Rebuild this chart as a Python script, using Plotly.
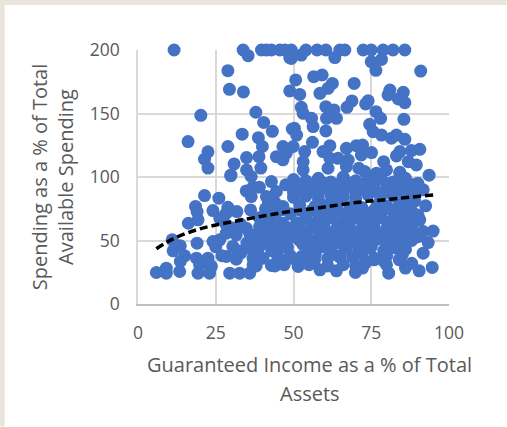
import plotly.graph_objects as go

# Points, sparse ones first, then the dense blob
x_points = [
    11.6, 33.8, 35.4, 28.9, 29.4, 33.9, 20.2, 37.9, 40.4, 43.2, 16.1, 33.5, 38.7, 28.9, 40.0, 22.5,
    21.4, 22.5, 34.9, 30.9, 29.9, 38.9, 34.9, 39.5, 39.7, 41.3, 42.9, 45.6, 47.2, 48.8, 48.8, 49.6,
    44.5, 46.6, 46.6, 47.7,
    49.3, 49.3, 52.5, 54.0, 57.6, 60.4, 63.3, 64.9, 66.5, 72.4, 75.0, 75.0, 78.8, 78.3, 82.0, 85.8,
    76.5, 90.9, 50.7, 56.5, 59.2, 69.5, 62.5, 61.1, 58.5, 52.0, 81.0, 85.3, 80.4, 83.7, 85.8, 74.0,
    73.2, 68.8, 67.2, 52.5, 53.1, 60.4, 63.0, 55.8, 63.8, 60.6, 56.3, 60.4, 50.3, 51.0, 76.5, 78.0,
    85.5, 74.5, 75.6, 78.3, 81.5, 83.1, 85.8, 56.1, 61.7, 67.0, 70.2, 72.2, 49.9, 53.6, 59.5, 75.1,
    71.8, 84.2, 83.1, 87.9, 90.6, 79.0, 86.9, 89.5, 84.2, 93.6, 53.1, 61.7, 64.3, 67.6, 53.1, 61.1,
    67.0, 71.0, 72.9, 79.9, 76.7,
    29.8, 36.4, 42.9, 47.5, 21.4, 26.0, 34.8, 36.4, 41.3, 44.5, 18.5, 19.0, 24.1, 28.9, 31.8, 36.2,
    42.1, 46.6, 16.2, 19.3, 26.3, 28.4, 11.0, 19.0, 11.3, 13.6, 15.0, 13.6, 13.4, 5.9, 9.1, 9.1,
    18.8, 22.5, 19.8, 23.0, 23.6, 19.3, 23.0, 29.5, 32.7, 35.9, 37.0, 42.9, 47.2, 28.4, 31.6, 24.1,
    26.3, 28.4, 31.6, 30.5, 34.8, 37.0, 34.8, 38.0, 41.3, 44.5, 37.0, 40.2, 39.1, 42.3, 46.6, 47.7,
    28.4,
    51.5, 58.5, 63.8, 69.9, 72.2, 80.6, 86.0, 90.4, 94.6, 75.9, 79.9, 84.2, 91.7, 64.9, 56.8, 52.6,
    49.3, 74.0, 93.3, 94.9, 91.7, 90.6, 92.5, 91.7, 88.5, 84.2,
    50, 54, 58, 62, 66, 70, 74, 78, 82, 86, 90, 52, 56, 60, 64, 68, 72, 76, 80, 84, 88,
    50, 54, 58, 62, 66, 70, 74, 78, 82, 86, 89, 52, 57, 61, 64, 69, 72, 77, 80, 84, 87,
    49, 54, 59, 62, 67, 71, 75, 78, 83, 86, 90, 51, 56, 60, 65, 68, 73, 76, 81, 85, 88,
    50, 53, 58, 63, 66, 70, 74, 79, 82, 87, 90, 52, 56, 61, 64, 69, 73, 77, 81, 84, 88,
    48, 55, 59, 62, 67, 71, 75, 79, 83, 86, 49, 53, 57, 61, 65, 69, 72, 76, 80, 85,
    44, 46, 43, 45, 47, 41, 44, 46, 42, 45, 47, 40, 43,
    66, 73, 79, 84, 88, 55, 61, 70,
    # second pass over the blob, filling what the first pass left open
    52, 56, 60, 64, 68, 72, 76, 80, 84, 88, 50, 54, 58, 62, 66, 70, 74, 78, 82, 86,
    52, 56, 60, 64, 68, 72, 76, 80, 84, 88, 54, 58, 62, 66, 70, 74, 78, 82, 86, 90,
    48, 52, 56, 60, 64, 68, 72, 76, 80, 84, 88, 50, 54, 58, 62, 66, 70, 74, 78, 82, 86, 90,
    39, 41, 43, 45, 39, 42, 44, 47, 37, 40,
    53, 57, 62, 66, 71, 75, 80, 84,
    # lower left of the blob
    33, 36, 30, 25, 27, 33, 39, 42, 44, 40, 45, 48, 38, 44, 32, 35, 41,
]
y_points = [
    200, 200, 195.5, 183.7, 169, 167, 148.6, 151, 143, 136, 127.9, 133.7, 131, 124, 124, 119.8,
    114, 107, 115.3, 110.3, 101.5, 116, 105.6, 107, 200, 200, 200, 200, 200, 194, 167.8, 137.8,
    116, 124, 113.5, 118.8,
    200, 193.4, 196, 200, 200, 200, 194, 200, 200, 200, 200, 190.8, 200, 192.6, 200, 200,
    184, 183.4, 176.4, 179, 180.3, 173.7, 173.7, 169.8, 165.9, 165, 168.5, 166.7, 164.6, 161.4, 158.5, 160,
    157.5, 159.9, 154.9, 154.9, 150.1, 155.4, 152.8, 146.2, 146.2, 146.2, 139.7, 136.3, 138.4, 133, 151.4, 146.2,
    145.4, 141.5, 135.7, 133, 130.5, 133, 129.7, 127.3, 124.7, 122.6, 124.7, 125.2, 124, 120, 120, 119.2,
    117.4, 120, 116.6, 120.8, 121.8, 112.1, 112.1, 109.5, 103.7, 101.4, 112, 114.7, 114.7, 113.4, 105.6, 106.9,
    108.2, 106.9, 104.3, 105.6, 103,
    101, 100.4, 96.4, 93.8, 85.4, 83.3, 89, 84.6, 84.6, 88.6, 76.8, 72.8, 73.6, 76.2, 72.8, 74.1,
    74.1, 76.8, 63.6, 66.3, 67.6, 71.5, 50.5, 47.9, 41.9, 45.8, 37.9, 33.5, 25.6, 24.8, 28.2, 24.3,
    36.1, 36.1, 30.9, 30.9, 29.6, 24.3, 24.3, 24.3, 24.3, 24.3, 30.9, 30.4, 34.3, 37.4, 35.3, 49.2,
    50.5, 55.8, 54.5, 45.3, 59.7, 50.5, 44, 42.7, 47.9, 41.4, 36.1, 36.1, 61, 55.8, 63.6, 53.2,
    62.3,
    29.6, 26.9, 26.1, 24.8, 28.3, 24.3, 28.3, 26.1, 28.8, 34.8, 30.9, 34.8, 40, 36.9, 34.8, 37.4,
    36.1, 44, 48.4, 57.4, 57.1, 66.3, 77.3, 89.9, 87.2, 103,
    98, 97, 99, 96, 100, 97, 98, 101, 96, 99, 95, 91, 90, 92, 90, 93, 91, 90, 93, 90, 92,
    84, 85, 83, 86, 84, 83, 86, 84, 85, 83, 81, 78, 77, 78, 79, 77, 76, 78, 77, 78, 76,
    71, 70, 72, 69, 71, 70, 72, 69, 71, 70, 70, 64, 63, 65, 62, 64, 63, 65, 62, 64, 62,
    57, 56, 58, 55, 57, 56, 58, 55, 57, 56, 55, 50, 49, 51, 48, 50, 49, 51, 48, 50, 50,
    44, 43, 45, 42, 44, 43, 45, 42, 44, 43, 38, 37, 39, 36, 38, 37, 39, 36, 38, 39,
    80, 74, 66, 60, 55, 75, 50, 45, 65, 37, 31, 58, 42,
    31, 32, 34, 35, 32, 31, 30, 30,
    94, 94, 95, 94, 95, 94, 95, 95, 94, 94, 88, 87, 88, 87, 88, 87, 88, 87, 88, 87,
    74, 74, 75, 74, 75, 74, 74, 75, 74, 73, 67, 67, 68, 67, 68, 67, 68, 67, 66, 66,
    60, 60, 60, 60, 60, 60, 60, 60, 60, 60, 60, 53, 53, 53, 53, 53, 53, 53, 53, 53, 53, 53,
    92, 70, 62, 52, 45, 80, 68, 58, 92, 56,
    47, 47, 47, 47, 47, 47, 47, 46,
    40, 55, 60, 45, 38, 63, 68, 62, 55, 52, 35, 45, 30, 30, 42, 48, 58,
]

# Trend line read at a few places along the dashes
trend_x = [5.9, 11.3, 18.8, 26.3, 34.8, 42.3, 48.8, 59.5, 70.2, 81.0, 94.9]
trend_y = [43.5, 51.3, 58.4, 62.9, 66.8, 70.2, 72.8, 76.2, 79.9, 82.5, 85.9]

x_ticks = [0, 25, 50, 75, 100]
y_ticks = [0, 50, 100, 150, 200]
x_title_lines = ['Guaranteed Income as a % of Total', 'Assets']
y_title = 'Spending as a % of Total<br>Available Spending'

COLORS = {
    'dots': '#4472c4',
    'grid': '#d9d9d9',
    'text': '#595959',
    'page': '#e9e5dc',
}
W, H = 507, 427
LEFT, RIGHT, TOP, BOTTOM = 138.3, 449.3, 50, 304.3
PLOT_W, PLOT_H = RIGHT - LEFT, BOTTOM - TOP

fig = go.Figure()
fig.add_trace(go.Scatter(
    x=x_points, y=y_points, mode='markers',
    marker=dict(size=13, color=COLORS['dots'], line=dict(width=0)),
    cliponaxis=False, showlegend=False,
))
fig.add_trace(go.Scatter(
    x=trend_x, y=trend_y, mode='lines', line_shape='spline',
    line=dict(color='black', width=3.5, dash='8px,4px'),
    showlegend=False,
))

fig.update_layout(
    width=W, height=H,
    margin=dict(l=LEFT, r=W - RIGHT, t=TOP, b=H - BOTTOM, autoexpand=False),
    paper_bgcolor='white',
    plot_bgcolor='white',
    font=dict(family='Open Sans', color=COLORS['text'], size=17.5),
    xaxis=dict(
        range=[0, 100], tickvals=x_ticks, showgrid=True, gridcolor=COLORS['grid'], gridwidth=1.5,
        showline=True, linecolor='#bfbfbf', linewidth=1.5, zeroline=False, ticks='',
        ticklabelstandoff=12,
    ),
    yaxis=dict(
        range=[0, 200], tickvals=y_ticks, showgrid=True, gridcolor=COLORS['grid'], gridwidth=1.5,
        showline=True, linecolor=COLORS['grid'], linewidth=1.5, zeroline=False, ticks='',
        ticklabelstandoff=13,
        title=dict(text=y_title, font=dict(size=20), standoff=11),
    ),
    # beige page edge along the left and the top of the picture
    shapes=[
        dict(type='rect', xref='paper', yref='paper', layer='below',
             x0=-LEFT / PLOT_W, x1=(5 - LEFT) / PLOT_W,
             y0=-(H - BOTTOM) / PLOT_H, y1=1 + TOP / PLOT_H,
             fillcolor=COLORS['page'], line_width=0),
        dict(type='rect', xref='paper', yref='paper', layer='below',
             x0=-LEFT / PLOT_W, x1=1 + (W - RIGHT) / PLOT_W,
             y0=1 + (TOP - 5) / PLOT_H, y1=1 + TOP / PLOT_H,
             fillcolor=COLORS['page'], line_width=0),
    ],
)

# x title sits right of the plot centre with wide line spacing, so two annotations
for line, py in zip(x_title_lines, [365, 394]):
    fig.add_annotation(
        text=line, xref='paper', yref='paper', showarrow=False,
        x=(310 - LEFT) / PLOT_W, y=(BOTTOM - py) / PLOT_H,
        xanchor='center', yanchor='middle', font=dict(size=20),
    )

# the page's default body margin would push the figure 8px in
fig.write_html(
    "out.html",
    config={'displayModeBar': False},
    post_script="document.body.style.margin = '0';",
)
